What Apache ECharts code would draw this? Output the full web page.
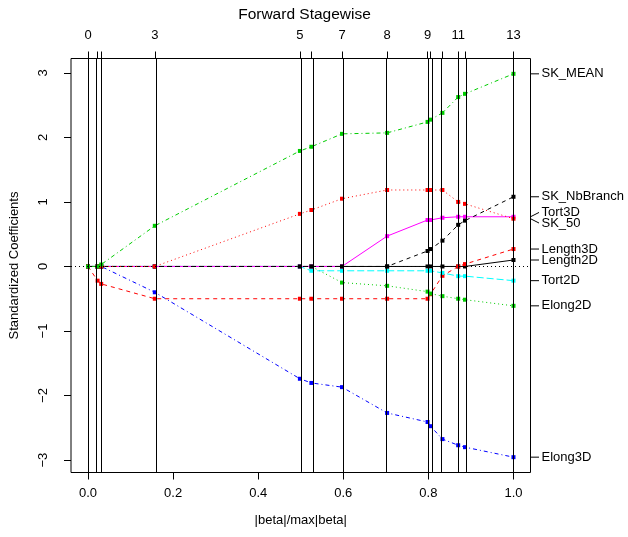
<!DOCTYPE html>
<html>
<head>
<meta charset="utf-8">
<script src="https://cdn.jsdelivr.net/npm/echarts@6/dist/echarts.min.js"></script>
<style>
  html, body { margin: 0; padding: 0; background: #fff; }
  #chart { width: 628px; height: 537px; }
</style>
</head>
<body>
<div id="chart"></div>
<script>
// Fraction |beta|/max|beta| at each step of the stagewise path
const steps = [0, 0.0225, 0.031, 0.157, 0.498, 0.525, 0.597, 0.703, 0.798, 0.805, 0.833, 0.870, 0.886, 1.0];
// Labels on the top axis (crowded ones left blank)
const stepLabels = ['0', '', '', '3', '5', '', '7', '8', '9', '', '', '11', '', '13'];
const xTicks = [0, 0.2, 0.4, 0.6, 0.8, 1.0];
const yTicks = [-3, -2, -1, 0, 1, 2, 3];

const varNames = ['Length2D', 'Length3D', 'Elong2D', 'Elong3D', 'Tort2D', 'Tort3D', 'SK_NbBranch', 'SK_50', 'SK_MEAN'];

// Standardized coefficients per variable, one value per step
const length2D   = [0, 0, 0, 0, 0, 0, 0, 0, 0, 0, 0, 0, 0, 0.10];
const length3D   = [0, -0.22, -0.27, -0.50, -0.50, -0.50, -0.50, -0.50, -0.50, -0.43, -0.145, 0.0, 0.037, 0.27];
const elong2D    = [0, 0, 0, 0, 0, 0, -0.25, -0.30, -0.39, -0.42, -0.46, -0.50, -0.515, -0.61];
const elong3D    = [0, 0, 0, -0.40, -1.74, -1.805, -1.87, -2.27, -2.41, -2.475, -2.675, -2.77, -2.80, -2.955];
const tort2D     = [0, 0, 0, 0, 0, -0.067, -0.067, -0.067, -0.067, -0.067, -0.10, -0.15, -0.15, -0.22];
const tort3D     = [0, 0, 0, 0, 0, 0, 0, 0.47, 0.72, 0.72, 0.755, 0.77, 0.77, 0.77];
const skNbBranch = [0, 0, 0, 0, 0, 0, 0, 0, 0.24, 0.27, 0.40, 0.645, 0.71, 1.08];
const sk50       = [0, 0, 0, 0, 0.815, 0.875, 1.05, 1.185, 1.185, 1.185, 1.185, 1.0, 0.97, 0.74];
const skMean     = [0, 0, 0.03, 0.63, 1.79, 1.855, 2.055, 2.07, 2.24, 2.275, 2.38, 2.625, 2.675, 2.985];

const coefs = [length2D, length3D, elong2D, elong3D, tort2D, tort3D, skNbBranch, sk50, skMean];

// R-style palette and line types, cycled per variable
const palette = ['#000000', '#FF0000', '#00CD00', '#0000FF', '#00FFFF', '#FF00FF'];
const dashes = ['solid', [4, 4], [1, 3], [1, 3, 4, 3], [7, 3]];

const FONT = '"Liberation Sans", Arial, sans-serif';

// Axis limits padded by 4% like base graphics
const allVals = coefs.flat();
const yLo = Math.min(...allVals), yHi = Math.max(...allVals);
const yPad = (yHi - yLo) * 0.04;
const xLo = Math.min(...steps), xHi = Math.max(...steps);
const xPad = (xHi - xLo) * 0.04;
const xMin = xLo - xPad, xMax = xHi + xPad;

const finals = coefs.map(c => c[c.length - 1]);
const LABEL_GAP = 10.6;

// Spread end labels vertically so neighbouring names do not collide
function labelLayout(api) {
  const ys = finals.map(v => api.coord([xMax, v])[1]);
  const order = ys.map((y, i) => i).sort((a, b) => ys[a] - ys[b]);
  let groups = order.map(i => ({ members: [i], center: ys[i] }));
  let merged = true;
  while (merged) {
    merged = false;
    for (let g = 0; g < groups.length - 1; g++) {
      const a = groups[g], b = groups[g + 1];
      const aBottom = a.center + (a.members.length - 1) * LABEL_GAP / 2;
      const bTop = b.center - (b.members.length - 1) * LABEL_GAP / 2;
      if (bTop - aBottom < LABEL_GAP) {
        const members = a.members.concat(b.members);
        const center = members.reduce((s, i) => s + ys[i], 0) / members.length;
        groups.splice(g, 2, { members, center });
        merged = true;
        break;
      }
    }
  }
  const out = [];
  groups.forEach(g => g.members.forEach((i, k) => {
    out[i] = g.center + (k - (g.members.length - 1) / 2) * LABEL_GAP;
  }));
  return { ys, out };
}

const pathSeries = coefs.map((vals, i) => ({
  type: 'line',
  name: varNames[i],
  data: vals.map((v, k) => [steps[k], v]),
  symbol: 'rect',
  symbolSize: 4,
  showAllSymbol: true,
  lineStyle: { color: palette[i % 6], width: 1, type: dashes[i % 5] },
  itemStyle: { color: palette[i % 6] },
  z: 3
}));

const guideSeries = {
  type: 'line',
  data: [],
  silent: true,
  z: 4,
  markLine: {
    silent: true,
    symbol: ['none', 'none'],
    label: { show: false },
    animation: false,
    data: steps.map(s => ({ xAxis: s, lineStyle: { color: '#000', width: 1, type: 'solid' } }))
      .concat([{ yAxis: 0, lineStyle: { color: '#000', width: 1, type: [1, 3] } }])
  }
};

const endLabelSeries = {
  type: 'custom',
  clip: false,
  silent: true,
  data: finals.map(v => [xMax, v]),
  renderItem: function (params, api) {
    const i = params.dataIndex;
    const lay = labelLayout(api);
    const xr = api.coord([xMax, 0])[0];
    return {
      type: 'group',
      children: [
        { type: 'line', shape: { x1: xr, y1: lay.ys[i], x2: xr + 8.5, y2: lay.out[i] },
          style: { stroke: '#000', lineWidth: 1 } },
        { type: 'text', x: xr + 11, y: lay.out[i],
          style: { text: varNames[i], fill: '#000', font: '13px ' + FONT, align: 'left', verticalAlign: 'middle' } }
      ]
    };
  }
};

const chart = echarts.init(document.getElementById('chart'), null, { renderer: 'canvas' });
chart.setOption({
  animation: false,
  backgroundColor: '#fff',
  textStyle: { fontFamily: FONT },
  title: {
    text: 'Forward Stagewise',
    left: 299.5,
    textAlign: 'center',
    top: 2,
    textStyle: { fontSize: 15.5, fontWeight: 'normal', color: '#000', fontFamily: FONT }
  },
  grid: {
    left: 68.5, right: 97.5, top: 58.5, bottom: 64.5,
    show: true, borderColor: '#000', borderWidth: 1, backgroundColor: 'transparent'
  },
  xAxis: [
    {
      type: 'value', position: 'bottom', min: xMin, max: xMax,
      name: '|beta|/max|beta|', nameLocation: 'middle', nameGap: 41,
      nameTextStyle: { fontSize: 13, color: '#000', fontFamily: FONT },
      axisLine: { show: false, onZero: false },
      splitLine: { show: false },
      axisTick: { show: true, length: 7, customValues: xTicks, lineStyle: { color: '#000' } },
      axisLabel: { customValues: xTicks, margin: 14, fontSize: 13, color: '#000', fontFamily: FONT,
        formatter: v => v.toFixed(1) }
    },
    {
      type: 'value', position: 'top', min: xMin, max: xMax,
      axisLine: { show: false, onZero: false },
      splitLine: { show: false },
      axisTick: { show: true, length: 7, customValues: steps, lineStyle: { color: '#000' } },
      axisLabel: { customValues: steps, margin: 17, fontSize: 13, color: '#000', fontFamily: FONT,
        formatter: v => { const k = steps.indexOf(v); return k >= 0 ? stepLabels[k] : ''; } }
    }
  ],
  yAxis: {
    type: 'value', min: yLo - yPad, max: yHi + yPad,
    name: 'Standardized Coefficients', nameLocation: 'middle', nameGap: 50, nameRotate: 90,
    nameTextStyle: { fontSize: 13, color: '#000', fontFamily: FONT },
    axisLine: { show: false, onZero: false },
    splitLine: { show: false },
    axisTick: { show: true, length: 7, customValues: yTicks, lineStyle: { color: '#000' } },
    axisLabel: { customValues: yTicks, rotate: 90, margin: 21, fontSize: 13, color: '#000', fontFamily: FONT,
      formatter: v => (v < 0 ? '\u2212' + Math.abs(v) : String(v)) }
  },
  series: pathSeries.concat([guideSeries, endLabelSeries])
});
</script>
</body>
</html>
